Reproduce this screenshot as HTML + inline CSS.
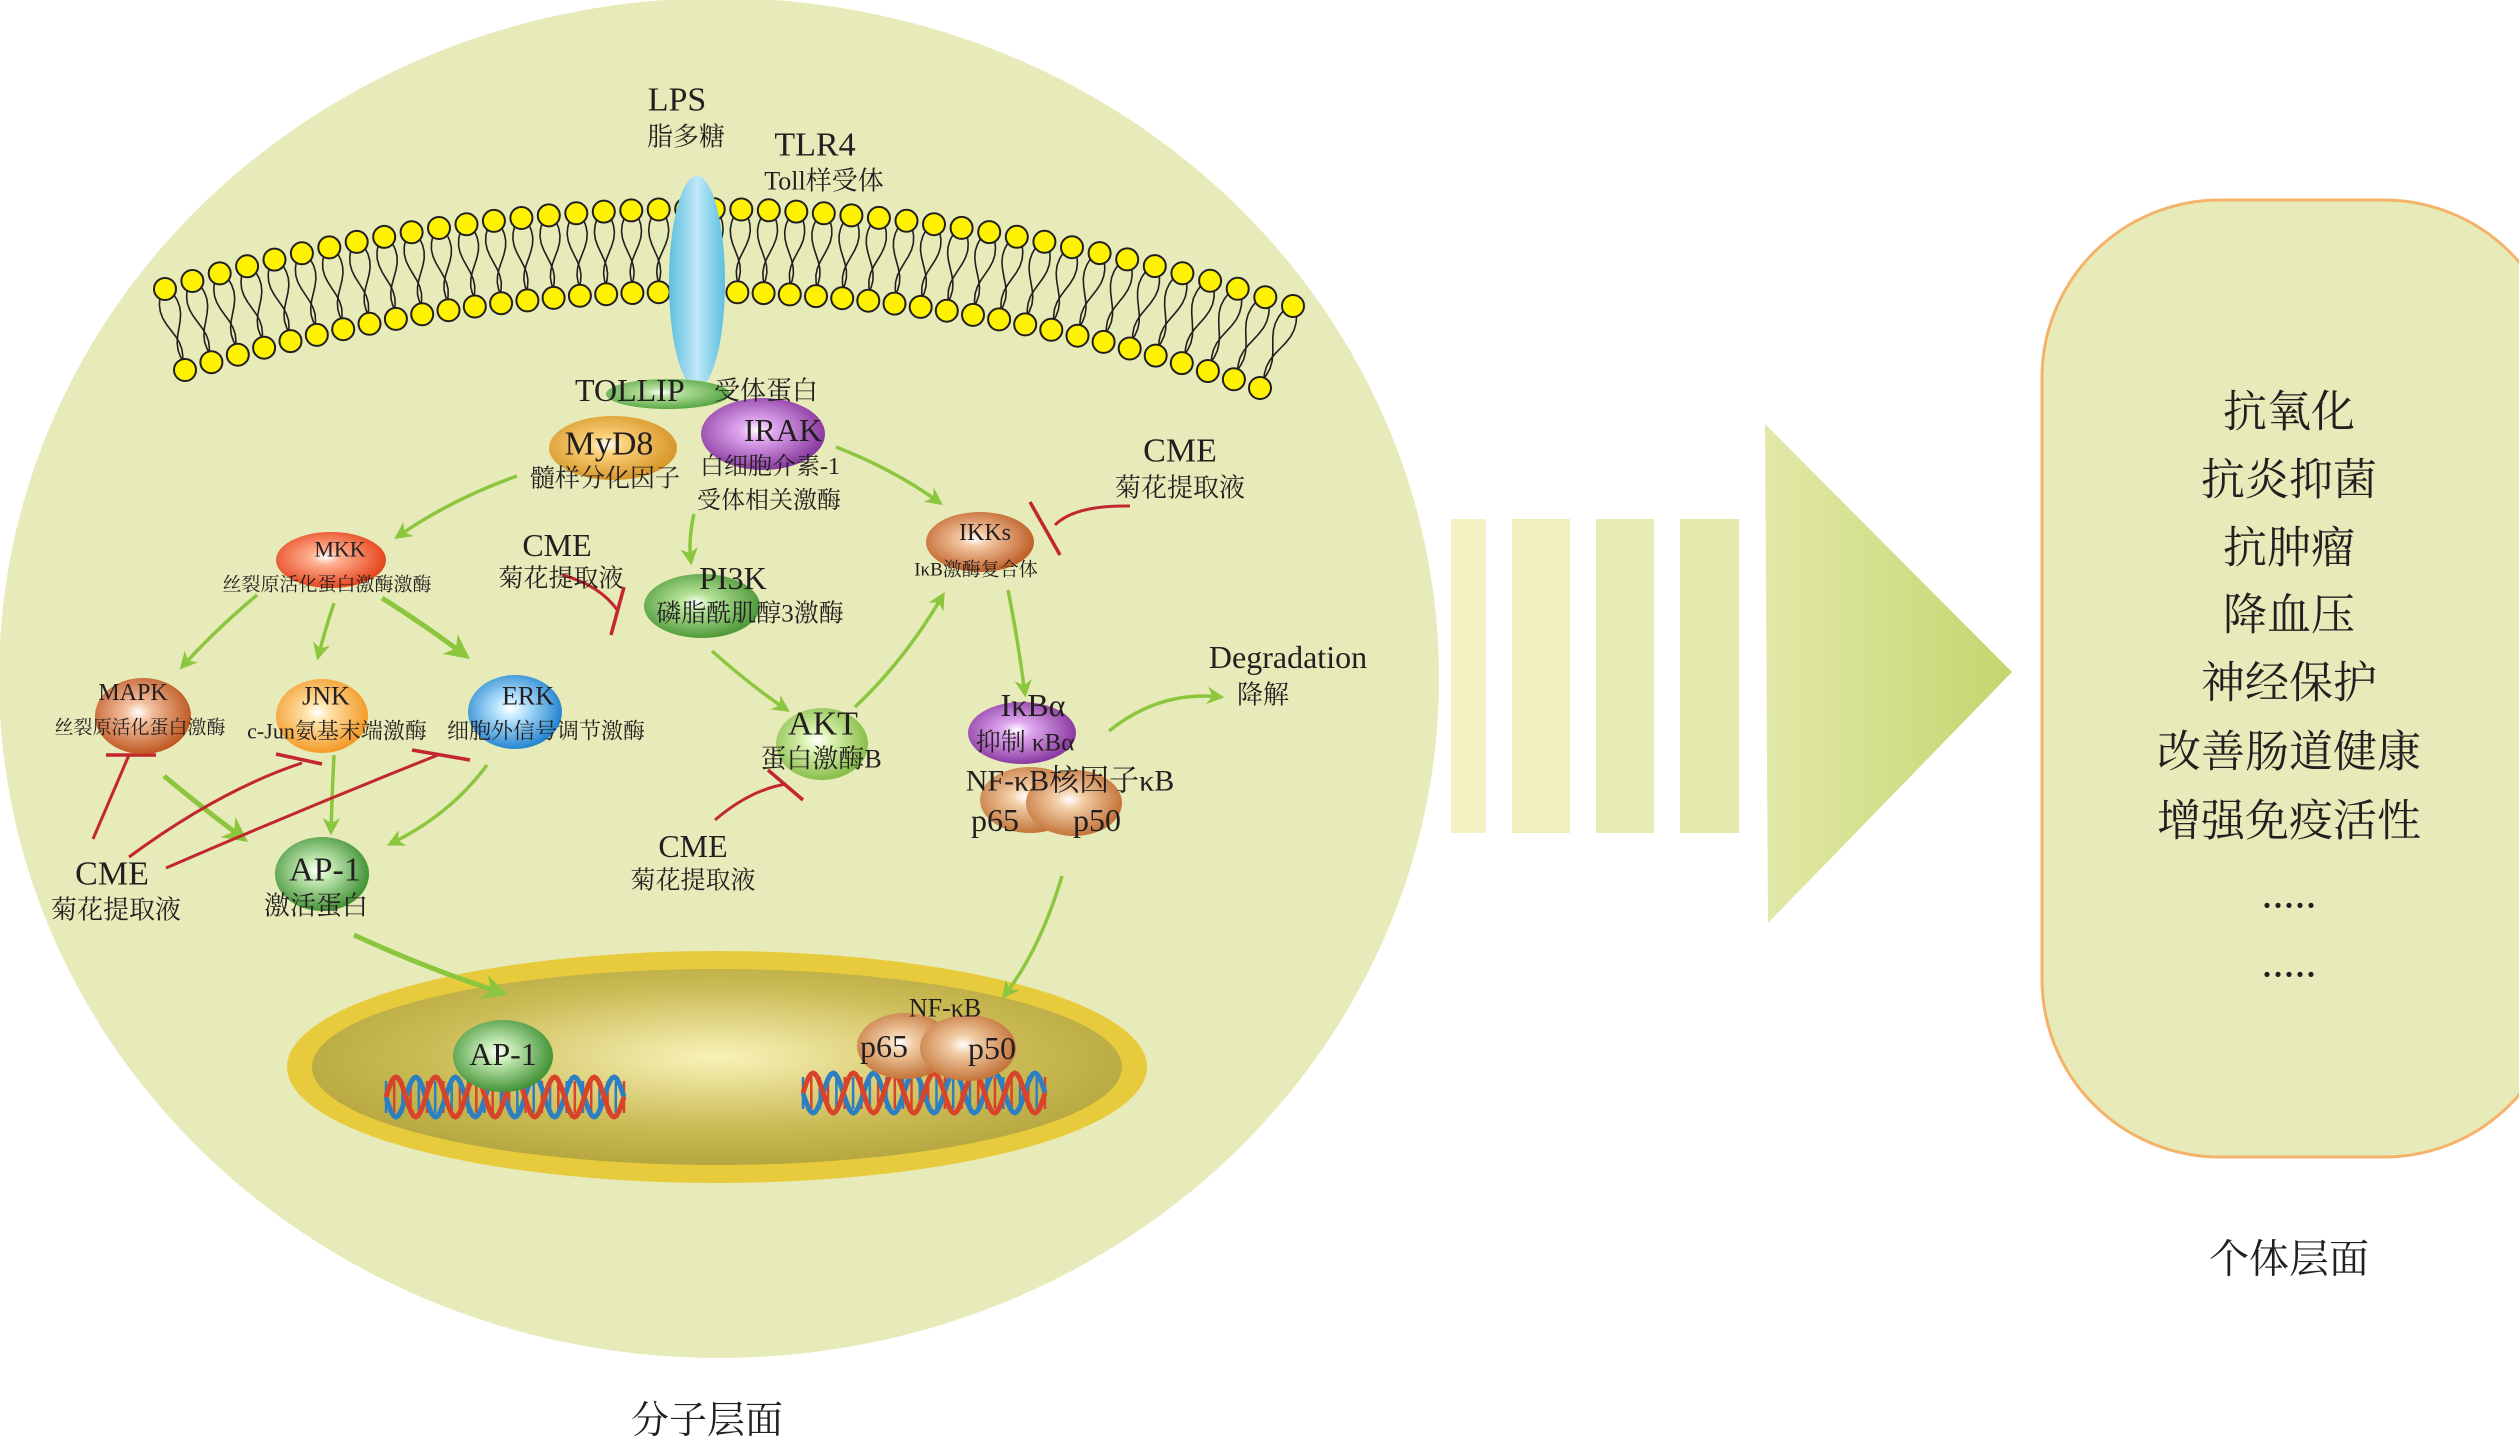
<!DOCTYPE html>
<html><head><meta charset="utf-8">
<style>
html,body{margin:0;padding:0;background:#fff;}
svg{display:block;}
text{font-family:"Liberation Serif","Noto Serif CJK SC",serif;fill:#231f20;}
</style></head>
<body>
<svg id="s" width="2519" height="1446" viewBox="0 0 2519 1446" xmlns="http://www.w3.org/2000/svg">
<defs>
<radialGradient id="nuc" cx="50%" cy="45%" r="60%"><stop offset="0" stop-color="#f8f2b8"/><stop offset="0.6" stop-color="#cbbb55"/><stop offset="1" stop-color="#b0a23a"/></radialGradient>
<linearGradient id="tri" x1="0" x2="1" y1="0" y2="0"><stop offset="0" stop-color="#e2e8a8"/><stop offset="1" stop-color="#c3d66e"/></linearGradient>
<linearGradient id="tlr" x1="0" x2="1"><stop offset="0" stop-color="#5cbfe0"/><stop offset="0.5" stop-color="#bfe8f6"/><stop offset="1" stop-color="#5cbfe0"/></linearGradient>
<marker id="ah" viewBox="0 0 10 10" refX="8" refY="5" markerWidth="5" markerHeight="5" orient="auto"><path d="M0,0 L10,5 L0,10 L3,5 z" fill="#8cc63f"/></marker>
</defs>
<g id="g0"></g>
</svg>
<script>
const s=document.getElementById('s');
let html='';
function el(t,a,txt){let r='<'+t;for(const k in a)r+=' '+k+'="'+a[k]+'"';return r+(txt!==undefined?'>'+txt+'</'+t+'>':'/>');}
const cols={my:['#fbd27a','#d8972a'],ir:['#e0a8f0','#8a3aa0'],mkk:['#ffb090','#e6461e'],pi:['#b8e49a','#4f9a3a'],ikk:['#f3c6a0','#c0622a'],mapk:['#f3c0a0','#c05a24'],jnk:['#ffe2a8','#f39a28'],erk:['#c0e8ff','#2486d0'],akt:['#e0f4b8','#88be4a'],ap:['#c8ecb8','#449438'],nf:['#f3cfa8','#c4753a'],tol:['#b8e0a0','#5aa845']};
let defs='';
for(const k in cols){defs+='<radialGradient id="g_'+k+'" cx="45%" cy="45%" r="55%"><stop offset="0" stop-color="#fff"/><stop offset="0.25" stop-color="'+cols[k][0]+'"/><stop offset="1" stop-color="'+cols[k][1]+'"/></radialGradient>';}
s.querySelector('defs').insertAdjacentHTML('beforeend',defs);
html+=el('ellipse',{cx:719,cy:678,rx:720,ry:680,fill:'#e7ebb9'});
function q(p0,c,p2,t){return [(1-t)*(1-t)*p0[0]+2*(1-t)*t*c[0]+t*t*p2[0],(1-t)*(1-t)*p0[1]+2*(1-t)*t*c[1]+t*t*p2[1]];}
const O=[[165,289],[726,121],[1293,306]], I=[[185,370],[726,205],[1260,388]];
const N=42;
let tails='',heads='';
for(let i=0;i<N;i++){const t=i/(N-1);const a=q(O[0],O[1],O[2],t),b=q(I[0],I[1],I[2],t);
 const dx=b[0]-a[0],dy=b[1]-a[1],L=Math.hypot(dx,dy),tx=-dy/L,ty=dx/L;
 for(const sg of [-1,1]){let d='';for(let k=0;k<=12;k++){const u=k/12;const off=sg*(4+6*Math.sin(u*Math.PI*2));const x=a[0]+dx*u+tx*off,y=a[1]+dy*u+ty*off;d+=(k?'L':'M')+x.toFixed(1)+','+y.toFixed(1);}tails+=el('path',{d:d,fill:'none',stroke:'#231f20','stroke-width':1.6});}
 heads+=el('circle',{cx:a[0].toFixed(1),cy:a[1].toFixed(1),r:11,fill:'#fff200',stroke:'#231f20','stroke-width':2});
 heads+=el('circle',{cx:b[0].toFixed(1),cy:b[1].toFixed(1),r:11,fill:'#fff200',stroke:'#231f20','stroke-width':2});}
html+=tails+heads;
html+=el('ellipse',{cx:697,cy:282,rx:28,ry:106,fill:'url(#tlr)'});
html+=el('ellipse',{cx:668,cy:394,rx:62,ry:15,fill:'url(#g_tol)'});
html+=el('ellipse',{cx:717,cy:1067,rx:430,ry:116,fill:'#e8cb3c'});
html+=el('ellipse',{cx:717,cy:1067,rx:405,ry:98,fill:'url(#nuc)'});
function dna(x0,x1,y,amp){let r='';const w=x1-x0;for(let k=0;k<30;k++){const x=x0+k*w/29;r+=el('line',{x1:x.toFixed(1),y1:y-amp*0.8,x2:x.toFixed(1),y2:y+amp*0.8,stroke:(k%2?'#d8442a':'#2e7fc2'),'stroke-width':2.5});}
 for(const [ph,c] of [[0,'#2e7fc2'],[Math.PI,'#d8442a']]){let d='';for(let k=0;k<=120;k++){const x=x0+k*w/120;const yy=y+amp*Math.sin(k/120*Math.PI*2*6+ph);d+=(k?'L':'M')+x.toFixed(1)+','+yy.toFixed(1);}r+=el('path',{d:d,fill:'none',stroke:c,'stroke-width':5});}
 return r;}
html+=dna(386,624,1097,20);
html+=dna(803,1045,1093,20);
const G='#8cc63f',R='#c1272d';
function ar(d,w){html+=el('path',{d:d,fill:'none',stroke:G,'stroke-width':w||3.5,'marker-end':'url(#ah)'});}
ar('M517,476 Q450,500 397,537');
ar('M694,514 Q688,540 691,562');
ar('M836,447 Q895,470 940,503');
ar('M257,595 Q215,630 182,667');
ar('M334,603 Q325,630 318,657');
ar('M382,598 Q425,625 466,656',5);
ar('M712,651 Q750,685 787,710');
ar('M855,707 Q905,660 943,595');
ar('M1008,590 Q1018,640 1025,694');
ar('M1109,731 Q1160,690 1221,697');
ar('M164,776 Q205,810 244,839',5);
ar('M334,755 Q332,795 331,832');
ar('M487,765 Q450,815 390,844');
ar('M354,935 Q430,970 503,993',5);
ar('M1062,876 Q1040,950 1004,996');
function inh(d,b){html+=el('path',{d:d,fill:'none',stroke:R,'stroke-width':3});html+=el('line',{x1:b[0],y1:b[1],x2:b[2],y2:b[3],stroke:R,'stroke-width':3.5});}
inh('M1130,506 Q1075,505 1055,525',[1030,502,1060,555]);
inh('M562,575 Q600,585 618,611',[624,587,611,635]);
inh('M715,820 Q750,790 786,784',[768,770,803,800]);
inh('M93,839 L129,755',[106,755,156,755]);
inh('M129,857 Q220,790 302,763',[276,754,322,764]);
inh('M166,868 Q300,810 438,755',[412,750,470,760]);
function nd(cx,cy,rx,ry,k){html+=el('ellipse',{cx:cx,cy:cy,rx:rx,ry:ry,fill:'url(#g_'+k+')'});}
nd(613,448,64,32,'my');nd(763,434,62,36,'ir');nd(331,560,55,28,'mkk');nd(702,606,58,32,'pi');
nd(980,542,54,30,'ikk');nd(143,716,48,38,'mapk');nd(322,716,46,37,'jnk');nd(515,712,47,37,'erk');
nd(822,744,46,36,'akt');nd(1022,733,54,31,'ir');nd(1030,800,50,33,'nf');nd(1074,803,48,33,'nf');
nd(322,874,47,37,'ap');nd(503,1056,50,36,'ap');nd(905,1046,48,33,'nf');nd(968,1048,48,33,'nf');
function tx(x,y,sz,t,anc){html+=el('text',{x:x,y:y,'font-size':sz,'text-anchor':anc||'middle','dominant-baseline':'central'},t);}
tx(677,100,34,'LPS');tx(686,137,26,'脂多糖');
tx(815,145,34,'TLR4');tx(824,181,26,'Toll样受体');
tx(575,390,32,'TOLLIP',"start");tx(714,391,26,'受体蛋白','start');
tx(609,444,34,'MyD8');tx(783,430,32,'IRAK');
tx(605,479,25,'髓样分化因子');tx(770,467,24,'白细胞介素-1');tx(769,501,24,'受体相关激酶');
tx(340,549,22,'MKK');tx(327,585,19,'丝裂原活化蛋白激酶激酶');
tx(557,545,32,'CME');tx(561,579,25,'菊花提取液');
tx(733,578,32,'PI3K');tx(750,614,25,'磷脂酰肌醇3激酶');
tx(985,533,24,'IKKs');tx(976,570,19,'IκB激酶复合体');
tx(1180,451,34,'CME');tx(1180,488,26,'菊花提取液');
tx(133,693,24,'MAPK');tx(140,728,19,'丝裂原活化蛋白激酶');
tx(326,696,26,'JNK');tx(337,731,22,'c-Jun氨基末端激酶');
tx(528,696,26,'ERK');tx(546,731,22,'细胞外信号调节激酶');
tx(823,724,34,'AKT');tx(821,759,26,'蛋白激酶B');
tx(1033,705,32,'IκBα');tx(1025,743,25,'抑制 κBα');
tx(1070,781,30,'NF-κB核因子κB');tx(995,820,32,'p65');tx(1097,820,32,'p50');
tx(1288,657,32,'Degradation');tx(1263,695,26,'降解');
tx(693,846,32,'CME');tx(693,881,25,'菊花提取液');
tx(112,874,34,'CME');tx(116,910,26,'菊花提取液');
tx(325,870,34,'AP-1');tx(316,906,26,'激活蛋白');
tx(503,1054,32,'AP-1');tx(945,1008,26,'NF-κB');tx(884,1046,32,'p65');tx(992,1048,32,'p50');
tx(707,1421,38,'分子层面');
[[1451,1486],[1512,1570],[1596,1654],[1680,1739]].forEach((b,i)=>{const c=['#f4f2c2','#eff0bc','#e9ecb2','#e3e9aa'][i];html+=el('rect',{x:b[0],y:519,width:b[1]-b[0],height:314,fill:c});});
html+=el('polygon',{points:'1765,424 2012,672 1768,923',fill:'url(#tri)'});
html+=el('rect',{x:2042,y:200,width:520,height:957,rx:178,ry:178,fill:'#e7ebb9',stroke:'#f5b36a','stroke-width':3});
const items=[['抗氧化',412],['抗炎抑菌',480],['抗肿瘤',548],['降血压',615],['神经保护',683],['改善肠道健康',752],['增强免疫活性',821],['.....',893],['.....',962]];
items.forEach(it=>tx(2289,it[1],44,it[0]));
tx(2289,1259,40,'个体层面');
document.getElementById('g0').innerHTML=html;
</script>
</body></html>
